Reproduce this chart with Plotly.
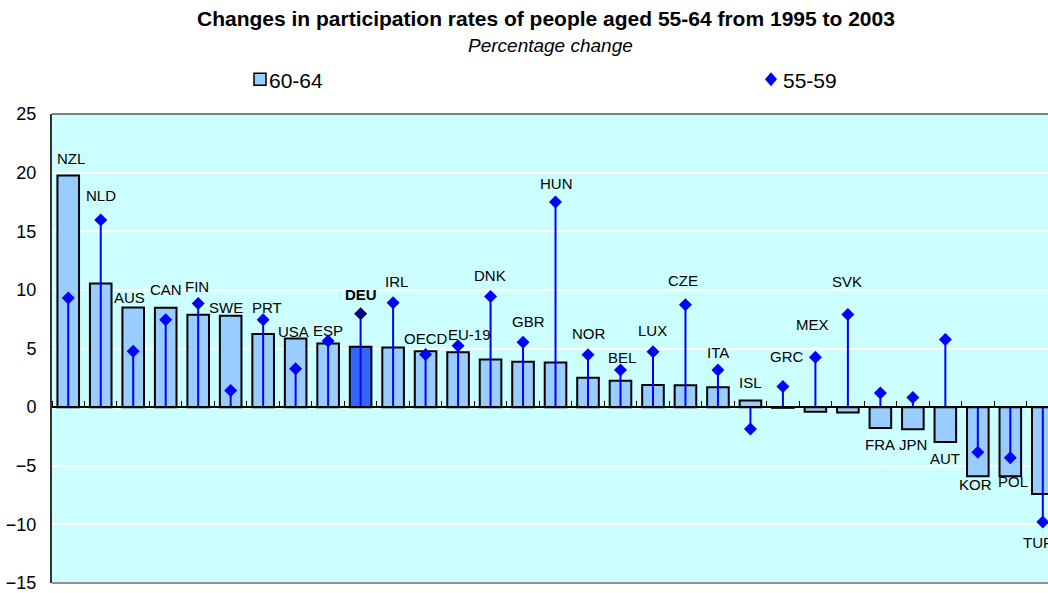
import plotly.graph_objects as go

# ---- data ----
countries = ["NZL", "NLD", "AUS", "CAN", "FIN", "SWE", "PRT", "USA", "ESP", "DEU",
             "IRL", "OECD", "EU-19", "DNK", "GBR", "HUN", "NOR", "BEL", "LUX", "CZE",
             "ITA", "ISL", "GRC", "MEX", "SVK", "FRA", "JPN", "AUT", "KOR", "POL", "TUR"]
age_60_64 = [19.75, 10.55, 8.5, 8.47, 7.88, 7.8, 6.24, 5.85, 5.42, 5.14,
             5.08, 4.77, 4.69, 4.07, 3.87, 3.81, 2.51, 2.26, 1.89, 1.86,
             1.69, 0.56, -0.06, -0.4, -0.45, -1.78, -1.89, -2.97, -5.9, -5.9, -7.4]
age_55_59 = [9.3, 15.96, 4.77, 7.46, 8.84, 1.41, 7.46, 3.28, 5.65, 7.97,
             8.9, 4.49, 5.23, 9.43, 5.54, 17.49, 4.46, 3.16, 4.72, 8.73,
             3.16, -1.86, 1.75, 4.26, 7.91, 1.21, 0.82, 5.76, -3.84, -4.32, -9.8]
y_ticks = [-15, -10, -5, 0, 5, 10, 15, 20, 25]

# ---- label placement (style) ----
label_side = ["up"] * 25 + ["down"] * 6
label_dx = [2.5, 0.7, -3.5, 0, -1.4, -5, 3.6, -2, 0, 0,
            3.4, 0, 11.7, -0.7, 5.5, 1, 1, 2, 0, -2.6,
            0, 0, 3.6, -2.5, -1.3, 0, 0, 0, -2.6, 2.6, -4.4]
label_dy = [17, 24, 10, 18, 17, 8, 12, 7.5, 10, 19,
            21, 12.7, 11.6, 20.7, 20.4, 18.7, 21, 12.4, 21.3, 24,
            17.4, 18, 30, 33, 33, -16.7, -15.4, -16.3, -8, -5.6, -20.3]

HIGHLIGHT = "DEU"
FONT = "Liberation Sans, Arial, sans-serif"
W, H = 1048, 593
PL, PR, PT, PB = 52, 1048, 114, 586          # plot area in page pixels
ML, MR, MT, MB = PL, W - PR, PT, H - PB
PW, PH = PR - PL, PB - PT


def px2x(px):
    return (px - PL) / PW


def py2y(py):
    return (PB - py) / PH


bar_colors = ["#3366FF" if c == HIGHLIGHT else "#99CCFF" for c in countries]
pt_colors = ["#000080" if c == HIGHLIGHT else "#0000FF" for c in countries]

fig = go.Figure()
fig.add_trace(go.Bar(
    x=countries, y=age_60_64, width=0.665, name="60-64",
    marker=dict(color=bar_colors, line=dict(color="black", width=2)),
    showlegend=False,
))

lx, ly = [], []
for c, v in zip(countries, age_55_59):
    lx += [c, c, None]
    ly += [0, v, None]
fig.add_trace(go.Scatter(x=lx, y=ly, mode="lines",
                         line=dict(color="#0000FF", width=2),
                         showlegend=False, hoverinfo="skip"))
fig.add_trace(go.Scatter(x=countries, y=age_55_59, mode="markers", name="55-59",
                         marker=dict(symbol="diamond", size=10, color=pt_colors,
                                     line=dict(width=0)),
                         showlegend=False))

annotations = []
for i, c in enumerate(countries):
    b, p = age_60_64[i], age_55_59[i]
    if label_side[i] == "up":
        anchor = max(b, p, 0)
    else:
        anchor = min(b, p)
    txt = f"<b>{c}</b>" if c == HIGHLIGHT else c
    annotations.append(dict(x=c, y=anchor, xref="x", yref="y", text=txt,
                            showarrow=False, xshift=label_dx[i], yshift=label_dy[i],
                            xanchor="center", yanchor="middle",
                            font=dict(family=FONT, size=15, color="black")))

# titles
annotations.append(dict(x=px2x(546), y=py2y(18), xref="paper", yref="paper",
                        text="<b>Changes in participation rates of people aged 55-64 from 1995 to 2003</b>",
                        showarrow=False, xanchor="center", yanchor="middle",
                        font=dict(family=FONT, size=21, color="black")))
annotations.append(dict(x=px2x(550), y=py2y(45), xref="paper", yref="paper",
                        text="<i>Percentage change</i>",
                        showarrow=False, xanchor="center", yanchor="middle",
                        font=dict(family=FONT, size=19, color="black")))
# legend texts
annotations.append(dict(x=px2x(267), y=py2y(80), xref="paper", yref="paper",
                        text="60-64", showarrow=False, xanchor="left", yanchor="middle",
                        font=dict(family=FONT, size=21, color="black")))
annotations.append(dict(x=px2x(781), y=py2y(80), xref="paper", yref="paper",
                        text="55-59", showarrow=False, xanchor="left", yanchor="middle",
                        font=dict(family=FONT, size=21, color="black")))

shapes = [
    # legend square
    dict(type="rect", xref="paper", yref="paper",
         x0=px2x(254), x1=px2x(266), y0=py2y(85), y1=py2y(73),
         fillcolor="#99CCFF", line=dict(color="black", width=1.5)),
    # legend diamond
    dict(type="path", xref="paper", yref="paper",
         path=f"M {px2x(765)},{py2y(79)} L {px2x(771)},{py2y(72)} L {px2x(777)},{py2y(79)} L {px2x(771)},{py2y(86)} Z",
         fillcolor="#0000FF", line=dict(width=0)),
    # plot border top/bottom
    dict(type="line", xref="paper", yref="paper", x0=0, x1=1, y0=1, y1=1,
         line=dict(color="#808080", width=2)),
    dict(type="line", xref="paper", yref="paper", x0=0, x1=1, y0=0, y1=0,
         line=dict(color="#909090", width=2)),
]

fig.update_layout(
    width=W, height=H,
    margin=dict(l=ML, r=MR, t=MT, b=MB, pad=0),
    paper_bgcolor="white", plot_bgcolor="#CCFFFF",
    font=dict(family=FONT, color="black"),
    showlegend=False,
    annotations=annotations,
    shapes=shapes,
    xaxis=dict(type="category", range=[-0.5, 30.16], anchor="free",
               position=py2y(409), side="top",
               showticklabels=False, ticks="outside", ticklen=5, tickwidth=1,
               tickcolor="black", tickson="boundaries",
               showline=True, linecolor="black", linewidth=1.5,
               showgrid=False, zeroline=False, fixedrange=True),
    yaxis=dict(range=[-15, 25], tickvals=y_ticks, ticks="", showgrid=True,
               gridcolor="white", gridwidth=2, zeroline=False,
               showline=True, linecolor="#333333", linewidth=2,
               tickfont=dict(family=FONT, size=18, color="black"),
               ticklabelstandoff=10, ticklabeloverflow="allow"),
)

fig.write_html("out.html",
               config={"displayModeBar": False},
               post_script="document.body.style.margin='0';"
                           "document.body.style.overflow='hidden';")
